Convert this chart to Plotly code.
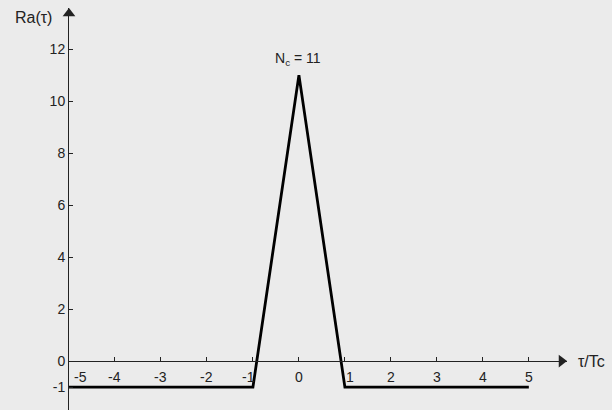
import plotly.graph_objects as go

# Data
tau = [-5, -1, 0, 1, 5]
ra = [-1, -1, 11, -1, -1]
x_ticks = [-5, -4, -3, -2, -1, 0, 1, 2, 3, 4, 5]
x_tick_labels = ["-5", "-4", "-3", "-2", "-1", "0", "1", "2", "3", "4", "5"]
y_ticks = [-1, 0, 2, 4, 6, 8, 10, 12]
y_tick_labels = ["-1", "0", "2", "4", "6", "8", "10", "12"]
peak_label = "N<sub>c</sub> = 11"

XR = [-5, 5.83]
YR = [-1.88, 13.58]
FONT = "Liberation Sans, Arial, sans-serif"
AX = "#222222"
W, H = 612, 410
ML, MR, MT, MB = 69, 45, 8, 0
px_x = (XR[1] - XR[0]) / (W - ML - MR)   # data units per pixel
px_y = (YR[1] - YR[0]) / (H - MT - MB)

fig = go.Figure()
fig.add_trace(go.Scatter(x=tau, y=ra, mode="lines",
                         line=dict(color="black", width=2.8),
                         hoverinfo="skip", showlegend=False))

# axis arrowheads (markers with tips at the axis ends)
ah = 11
fig.add_trace(go.Scatter(x=[XR[1] - ah / 2 * px_x], y=[0], mode="markers",
                         marker=dict(symbol="triangle-right", size=ah, color=AX,
                                     line=dict(width=0)),
                         cliponaxis=False, hoverinfo="skip", showlegend=False))
fig.add_trace(go.Scatter(x=[XR[0]], y=[YR[1] - ah / 2 * px_y], mode="markers",
                         marker=dict(symbol="triangle-up", size=ah, color=AX,
                                     line=dict(width=0)),
                         cliponaxis=False, hoverinfo="skip", showlegend=False))

xpos = (0 - YR[0]) / (YR[1] - YR[0])

fig.update_layout(
    width=W, height=H,
    margin=dict(l=ML, r=MR, t=MT, b=MB),
    paper_bgcolor="#ebebeb", plot_bgcolor="#ebebeb",
    font=dict(family=FONT, size=14, color="#222222"),
    xaxis=dict(range=XR, anchor="free", position=xpos,
               showline=True, linecolor=AX, linewidth=1,
               tickvals=x_ticks, ticks="inside", ticklen=4, tickcolor=AX,
               showticklabels=False, showgrid=False, zeroline=False),
    yaxis=dict(range=YR, showline=True, linecolor=AX, linewidth=1,
               tickvals=y_ticks, ticktext=y_tick_labels,
               ticks="inside", ticklen=4, tickcolor=AX,
               showgrid=False, zeroline=False, automargin=False,
               tickfont=dict(size=14)),
)

shifts = {"-5": 11, "1": 5, "-1": -4}
for v, t in zip(x_ticks, x_tick_labels):
    fig.add_annotation(x=v, y=0, text=t, showarrow=False,
                       xref="x", yref="y", yshift=-16, xshift=shifts.get(t, 0),
                       font=dict(size=14))

# axis titles
fig.add_annotation(x=0.0, y=1.0, xref="paper", yref="paper", text="Ra(τ)",
                   showarrow=False, xanchor="right", yanchor="top",
                   xshift=-15, yshift=1, font=dict(size=16))
fig.add_annotation(x=1.0, y=0, xref="paper", yref="y", text="τ/Tc",
                   showarrow=False, xanchor="left", yanchor="middle",
                   xshift=9, font=dict(size=16))

# peak label
fig.add_annotation(x=0, y=11, text=peak_label, showarrow=False,
                   yanchor="bottom", yshift=5, xshift=-1, font=dict(size=14))

fig.write_html("out.html", config={"displayModeBar": False},
               post_script="document.body.style.margin='0';document.body.style.background='#ebebeb';")
